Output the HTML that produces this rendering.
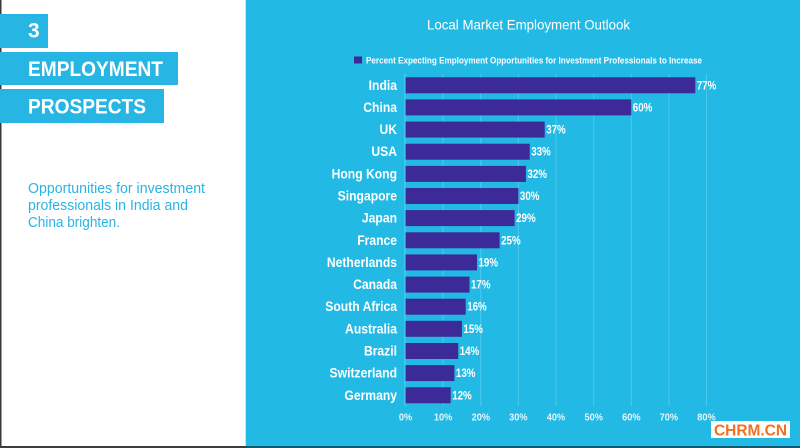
<!DOCTYPE html>
<html>
<head>
<meta charset="utf-8">
<style>
  html, body { margin: 0; padding: 0; background: #ffffff; }
  svg { display: block; }
  text { font-family: "Liberation Sans", "DejaVu Sans", sans-serif; }
</style>
</head>
<body>
<svg width="800" height="448" viewBox="0 0 800 448" xmlns="http://www.w3.org/2000/svg">
  <!-- left white panel -->
  <rect x="0" y="0" width="246" height="448" fill="#ffffff"/>
  <rect x="0" y="0" width="1.5" height="448" fill="#3a3a3a"/>
  <!-- right blue panel -->
  <rect x="246" y="0" width="554" height="448" fill="#22bae5"/>
  <rect x="245" y="0" width="1" height="448" fill="#bfe9f6"/>
  <!-- bottom dark line -->
  <rect x="0" y="446" width="246" height="2" fill="#3d3d3d"/>
  <rect x="246" y="446" width="554" height="2" fill="#0f5870"/>

  <!-- left title boxes -->
  <rect x="0" y="14" width="48" height="34" fill="#27b6e3"/>
  <text x="28" y="37.5" font-size="21" font-weight="bold" fill="#ffffff">3</text>
  <rect x="0" y="52" width="178" height="33" fill="#27b6e3"/>
  <text x="28" y="76" font-size="21" font-weight="bold" fill="#ffffff" textLength="135" lengthAdjust="spacingAndGlyphs">EMPLOYMENT</text>
  <rect x="0" y="89" width="164" height="34" fill="#27b6e3"/>
  <text x="28" y="113.5" font-size="21" font-weight="bold" fill="#ffffff" textLength="118" lengthAdjust="spacingAndGlyphs">PROSPECTS</text>

  <!-- subtitle -->
  <g font-size="15" fill="#2ab4e4">
    <text x="28" y="193" textLength="177" lengthAdjust="spacingAndGlyphs">Opportunities for investment</text>
    <text x="28" y="210" textLength="160" lengthAdjust="spacingAndGlyphs">professionals in India and</text>
    <text x="28" y="227" textLength="92" lengthAdjust="spacingAndGlyphs">China brighten.</text>
  </g>

  <!-- chart title -->
  <text x="427" y="29.5" font-size="14" fill="#ffffff" textLength="203" lengthAdjust="spacingAndGlyphs">Local Market Employment Outlook</text>

  <!-- legend -->
  <rect x="354" y="56.5" width="8" height="7" fill="#3c2a98"/>
  <text x="366" y="63.3" font-size="9.5" font-weight="bold" fill="#ffffff" textLength="336" lengthAdjust="spacingAndGlyphs">Percent Expecting Employment Opportunities for Investment Professionals to Increase</text>

  <!-- gridlines -->
  <g stroke="#4cc8ec" stroke-width="1">
    <line x1="405" y1="74" x2="405" y2="406" stroke="#5ccdee"/>
    <line x1="443.1" y1="74" x2="443.1" y2="406"/>
    <line x1="480.8" y1="74" x2="480.8" y2="406"/>
    <line x1="518.4" y1="74" x2="518.4" y2="406"/>
    <line x1="556.0" y1="74" x2="556.0" y2="406"/>
    <line x1="593.7" y1="74" x2="593.7" y2="406"/>
    <line x1="631.3" y1="74" x2="631.3" y2="406"/>
    <line x1="668.9" y1="74" x2="668.9" y2="406"/>
    <line x1="706.5" y1="74" x2="706.5" y2="406"/>
  </g>

  <!-- bars -->
  <g fill="#3c2a98">
    <rect x="405.5" y="77.3" width="289.8" height="16"/>
    <rect x="405.5" y="99.4" width="225.8" height="16"/>
    <rect x="405.5" y="121.6" width="139.2" height="16"/>
    <rect x="405.5" y="143.7" width="124.2" height="16"/>
    <rect x="405.5" y="165.9" width="120.4" height="16"/>
    <rect x="405.5" y="188.0" width="112.9" height="16"/>
    <rect x="405.5" y="210.1" width="109.1" height="16"/>
    <rect x="405.5" y="232.3" width="94.1" height="16"/>
    <rect x="405.5" y="254.4" width="71.5" height="16"/>
    <rect x="405.5" y="276.6" width="64.0" height="16"/>
    <rect x="405.5" y="298.7" width="60.2" height="16"/>
    <rect x="405.5" y="320.8" width="56.4" height="16"/>
    <rect x="405.5" y="343.0" width="52.7" height="16"/>
    <rect x="405.5" y="365.1" width="48.9" height="16"/>
    <rect x="405.5" y="387.3" width="45.2" height="16"/>
  </g>

  <!-- category labels -->
  <g font-size="13.5" font-weight="bold" fill="#ffffff" text-anchor="end">
    <text transform="translate(397,89.8) scale(0.9,1)">India</text>
    <text transform="translate(397,111.9) scale(0.9,1)">China</text>
    <text transform="translate(397,134.1) scale(0.9,1)">UK</text>
    <text transform="translate(397,156.2) scale(0.9,1)">USA</text>
    <text transform="translate(397,178.4) scale(0.9,1)">Hong Kong</text>
    <text transform="translate(397,200.5) scale(0.9,1)">Singapore</text>
    <text transform="translate(397,222.6) scale(0.9,1)">Japan</text>
    <text transform="translate(397,244.8) scale(0.9,1)">France</text>
    <text transform="translate(397,266.9) scale(0.9,1)">Netherlands</text>
    <text transform="translate(397,289.1) scale(0.9,1)">Canada</text>
    <text transform="translate(397,311.2) scale(0.9,1)">South Africa</text>
    <text transform="translate(397,333.3) scale(0.9,1)">Australia</text>
    <text transform="translate(397,355.5) scale(0.9,1)">Brazil</text>
    <text transform="translate(397,377.6) scale(0.9,1)">Switzerland</text>
    <text transform="translate(397,399.8) scale(0.9,1)">Germany</text>
  </g>

  <!-- value labels -->
  <g font-size="11.5" font-weight="bold" fill="#ffffff">
    <text transform="translate(696.8,89.3) scale(0.85,1)">77%</text>
    <text transform="translate(632.8,111.4) scale(0.85,1)">60%</text>
    <text transform="translate(546.2,133.6) scale(0.85,1)">37%</text>
    <text transform="translate(531.2,155.7) scale(0.85,1)">33%</text>
    <text transform="translate(527.4,177.9) scale(0.85,1)">32%</text>
    <text transform="translate(519.9,200.0) scale(0.85,1)">30%</text>
    <text transform="translate(516.1,222.1) scale(0.85,1)">29%</text>
    <text transform="translate(501.1,244.3) scale(0.85,1)">25%</text>
    <text transform="translate(478.5,266.4) scale(0.85,1)">19%</text>
    <text transform="translate(471.0,288.6) scale(0.85,1)">17%</text>
    <text transform="translate(467.2,310.7) scale(0.85,1)">16%</text>
    <text transform="translate(463.4,332.8) scale(0.85,1)">15%</text>
    <text transform="translate(459.7,355.0) scale(0.85,1)">14%</text>
    <text transform="translate(455.9,377.1) scale(0.85,1)">13%</text>
    <text transform="translate(452.2,399.3) scale(0.85,1)">12%</text>
  </g>

  <!-- x tick labels -->
  <g font-size="10.5" font-weight="bold" fill="#e2f5fc" text-anchor="middle">
    <text transform="translate(405.5,420.3) scale(0.88,1)">0%</text>
    <text transform="translate(443.1,420.3) scale(0.88,1)">10%</text>
    <text transform="translate(480.8,420.3) scale(0.88,1)">20%</text>
    <text transform="translate(518.4,420.3) scale(0.88,1)">30%</text>
    <text transform="translate(556.0,420.3) scale(0.88,1)">40%</text>
    <text transform="translate(593.7,420.3) scale(0.88,1)">50%</text>
    <text transform="translate(631.3,420.3) scale(0.88,1)">60%</text>
    <text transform="translate(668.9,420.3) scale(0.88,1)">70%</text>
    <text transform="translate(706.5,420.3) scale(0.88,1)">80%</text>
  </g>

  <!-- watermark -->
  <rect x="711" y="421" width="79" height="17" fill="#ffffff"/>
  <text x="714" y="435.5" font-size="16" font-weight="bold" fill="#f3701f" textLength="73" lengthAdjust="spacingAndGlyphs">CHRM.CN</text>
</svg>
</body>
</html>
